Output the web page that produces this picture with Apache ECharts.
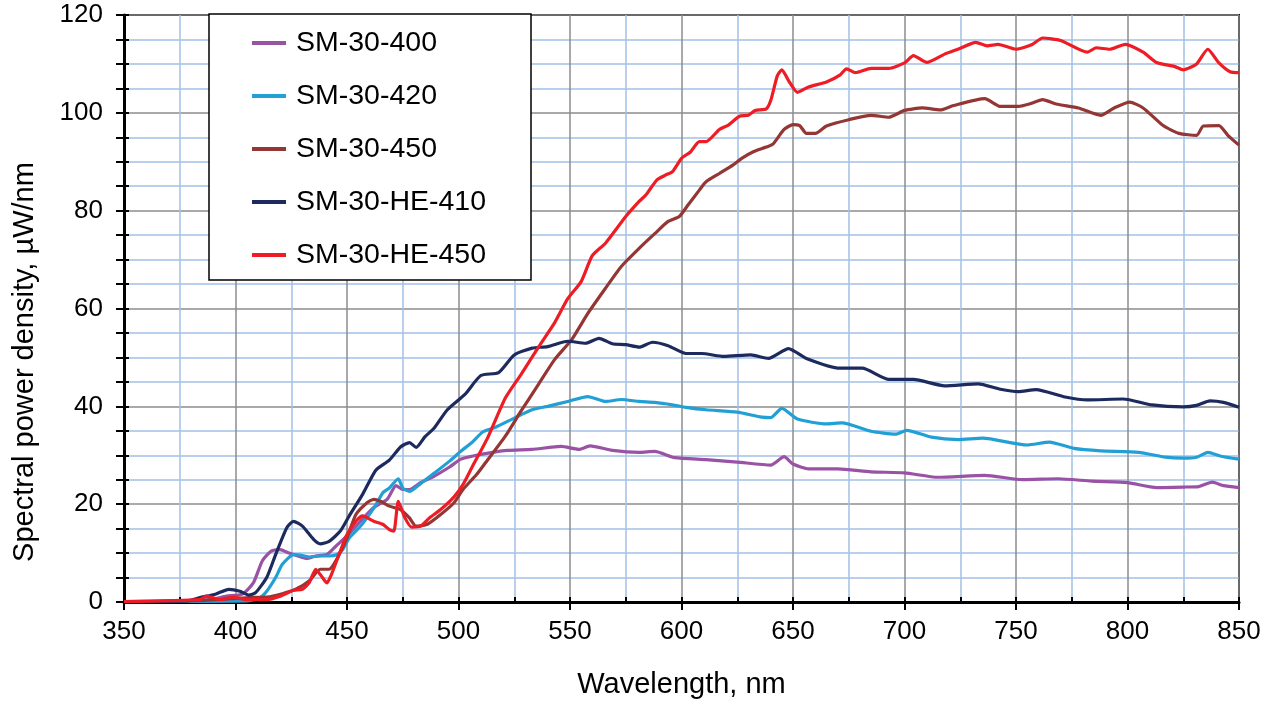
<!DOCTYPE html>
<html>
<head>
<meta charset="utf-8">
<script src="https://cdn.jsdelivr.net/npm/echarts@6/dist/echarts.min.js"></script>
<style>
  html, body { margin: 0; padding: 0; background: #fff; }
  #main { width: 1273px; height: 704px; }
</style>
</head>
<body>
<div id="main"></div>
<script>
// spectra: [wavelength nm, µW/nm]
var names = ['SM-30-400', 'SM-30-420', 'SM-30-450', 'SM-30-HE-410', 'SM-30-HE-450']
var colors = ['#9a52a4', '#22a0d6', '#943634', '#1d2a5e', '#ee1c24']

var sm400 = [[350,0.1],[380,0.2],[390,0.6],[396,1.2],[403,1.6],[408,3.9],[412,8.4],[416,10.4],[420,10.7],[424,10.0],[428,9.4],[432,8.9],[436,9.4],[441,9.7],[445,11.4],[450,13.5],[456,16.5],[462,19.3],[468,21.0],[472,23.8],[475,23.0],[478,23.0],[483,24.4],[489,25.7],[496,27.6],[501,29.2],[506,29.8],[514,30.5],[522,31.0],[533,31.2],[546,31.8],[554,31.2],[559,31.9],[569,31.0],[581,30.6],[588,30.8],[597,29.5],[611,29.1],[625,28.6],[640,28.0],[646,29.7],[650,28.2],[657,27.2],[670,27.2],[685,26.6],[700,26.4],[715,25.5],[736,25.9],[753,25.0],[769,25.2],[784,24.7],[800,24.4],[813,23.4],[825,23.5],[832,23.6],[838,24.5],[843,23.8],[850,23.4]]

var sm420 = [[350,0.1],[405,0.2],[411,0.9],[414,2.2],[418,5.0],[421,7.7],[426,9.7],[429,9.6],[433,9.2],[438,9.4],[442,9.4],[445,9.6],[448,10.7],[451,13.1],[456,15.5],[460,17.9],[463,19.9],[466,22.3],[469,23.3],[473,25.2],[475,23.3],[478,22.6],[483,24.2],[489,26.3],[496,28.8],[501,30.8],[506,32.6],[511,34.8],[516,35.6],[525,37.6],[533,39.3],[540,40.0],[549,41.0],[558,42.0],[566,41.0],[573,41.4],[581,41.0],[588,40.8],[596,40.3],[602,39.8],[611,39.3],[625,38.8],[636,37.8],[640,37.7],[645,39.6],[652,37.4],[665,36.4],[672,36.6],[685,34.9],[696,34.3],[701,35.1],[712,33.7],[724,33.2],[735,33.5],[755,32.1],[765,32.7],[776,31.4],[788,30.9],[805,30.6],[817,29.6],[825,29.4],[831,29.6],[836,30.6],[842,29.8],[850,29.2]]

var sm450 = [[350,0.1],[384,0.3],[406,0.9],[414,1.0],[421,1.7],[427,2.6],[433,4.3],[438,6.7],[442,6.7],[445,8.4],[450,13.1],[454,17.9],[459,20.3],[462,21.0],[465,20.6],[469,19.6],[474,18.9],[478,17.2],[481,15.5],[486,15.9],[492,17.9],[498,20.3],[502,23.0],[508,26.0],[512,28.4],[521,33.9],[528,39.0],[536,44.6],[543,49.5],[551,53.8],[558,59.0],[566,64.2],[573,68.6],[581,72.3],[588,75.3],[594,77.8],[599,78.8],[603,81.2],[608,84.2],[611,85.9],[617,87.6],[623,89.3],[627,90.7],[632,92.0],[638,93.0],[641,93.6],[646,96.6],[650,97.6],[653,97.4],[656,95.8],[660,95.8],[665,97.3],[675,98.6],[685,99.5],[693,99.1],[700,100.5],[708,101.0],[716,100.6],[722,101.5],[736,102.9],[743,101.3],[751,101.3],[756,101.8],[762,102.7],[768,101.8],[778,101.0],[788,99.5],[794,101.0],[801,102.2],[807,101.0],[816,97.4],[823,95.8],[831,95.4],[834,97.3],[841,97.4],[845,95.4],[850,93.4]]

var he410 = [[350,0.1],[378,0.2],[384,0.9],[391,1.6],[397,2.6],[402,2.2],[406,1.4],[409,1.9],[414,5.0],[418,9.7],[423,15.2],[426,16.5],[430,15.5],[435,12.8],[438,11.9],[442,12.4],[447,14.5],[451,17.6],[457,22.0],[463,27.0],[469,29.0],[474,31.7],[478,32.6],[481,31.6],[485,33.8],[489,35.5],[495,39.3],[503,42.5],[510,46.3],[518,46.9],[525,50.5],[533,51.9],[540,52.2],[549,53.3],[557,52.9],[563,53.9],[569,52.8],[575,52.6],[581,52.1],[587,53.1],[594,52.4],[602,50.8],[609,50.8],[619,50.2],[631,50.5],[639,49.8],[648,51.8],[656,49.8],[671,47.8],[681,47.8],[693,45.5],[704,45.5],[718,44.2],[733,44.6],[743,43.5],[751,43.0],[759,43.4],[772,41.9],[782,41.3],[798,41.5],[811,40.3],[825,39.9],[831,40.2],[837,41.1],[843,40.8],[850,39.8]]

var he450 = [[350,0.1],[384,0.5],[387,1.2],[393,0.5],[399,1.0],[405,0.5],[414,0.5],[420,1.2],[426,2.4],[430,2.6],[433,3.9],[436,6.7],[439,5.0],[441,3.9],[443,5.6],[447,10.4],[450,13.8],[454,16.5],[457,17.6],[462,16.5],[466,15.9],[469,14.8],[471,14.5],[473,20.6],[476,17.2],[479,15.3],[483,15.5],[487,17.2],[492,18.9],[498,21.5],[502,24.0],[506,27.5],[513,33.5],[521,41.7],[528,46.5],[536,52.2],[543,57.0],[549,62.0],[555,65.5],[560,70.8],[566,73.4],[575,78.8],[581,81.9],[584,83.2],[589,86.3],[593,87.3],[596,88.0],[600,90.7],[604,92.0],[608,94.1],[611,94.1],[617,96.6],[621,97.5],[626,99.3],[630,99.5],[633,100.5],[638,100.8],[640,102.5],[643,107.6],[645,108.8],[648,106.6],[652,104.2],[657,105.3],[665,106.3],[671,107.7],[674,109.0],[678,108.2],[685,109.1],[693,109.1],[700,110.2],[704,111.7],[710,110.3],[718,112.0],[724,113.0],[732,114.4],[737,113.7],[742,114.0],[750,113.0],[757,113.9],[762,115.3],[770,114.8],[782,112.4],[786,113.3],[792,113.0],[799,114.0],[807,112.4],[813,110.3],[821,109.5],[825,108.8],[831,110.0],[836,113.0],[841,110.2],[846,108.4],[850,108.2]]

var allData = [sm400, sm420, sm450, he410, he450]

var font = "'Liberation Sans', Arial, sans-serif"
var chart = echarts.init(document.getElementById('main'))

var series = names.map(function (n, i) {
  return {
    name: n,
    type: 'line',
    data: allData[i],
    xAxisIndex: 0,
    yAxisIndex: 0,
    showSymbol: false,
    symbol: 'none',
    smooth: 0.2,
    lineStyle: { color: colors[i], width: 3.2 },
    itemStyle: { color: colors[i] },
    z: 2
  }
})

var option = {
  animation: false,
  backgroundColor: '#fff',
  textStyle: { fontFamily: font },
  grid: {
    left: 124, right: 34, top: 15, bottom: 101,
    show: true, borderColor: '#000', borderWidth: 2
  },
  legend: {
    data: names,
    orient: 'vertical',
    left: 252, top: 28,
    padding: 0,
    itemWidth: 34, itemHeight: 4, itemGap: 23,
    icon: 'rect',
    textStyle: { fontFamily: font, fontSize: 28.5, lineHeight: 30, color: '#000', padding: [0, 0, 0, 5] },
    z: 6
  },
  graphic: [
    {
      type: 'rect', z: 5,
      shape: { x: 209, y: 14, width: 322, height: 266 },
      style: { fill: '#fff', stroke: '#000', lineWidth: 1.5 }
    },
    {
      type: 'text', z: 5,
      x: 25, y: 362, rotation: Math.PI / 2,
      style: {
        text: 'Spectral power density, µW/nm',
        font: '29px ' + font,
        fill: '#000',
        align: 'center', verticalAlign: 'middle',
        textAlign: 'center', textVerticalAlign: 'middle'
      }
    }
  ],
  xAxis: [
    {
      type: 'value', min: 350, max: 850, interval: 50,
      name: 'Wavelength, nm', nameLocation: 'middle', nameGap: 68,
      nameTextStyle: { fontSize: 29, color: '#000', fontFamily: font },
      axisLine: { lineStyle: { color: '#000', width: 3 } },
      axisTick: { show: true, length: 8, lineStyle: { color: '#000', width: 2 } },
      axisLabel: { fontSize: 26, color: '#000', margin: 17, fontFamily: font },
      splitLine: { show: true, lineStyle: { color: '#8c8c8c', width: 1.5 } },
      minorTick: { show: false, splitNumber: 2 },
      minorSplitLine: { show: true, lineStyle: { color: '#a3c1e8', width: 1.5 } }
    },
    {
      type: 'value', min: 350, max: 850, interval: 25, position: 'bottom',
      axisLine: { show: false },
      axisTick: { show: true, inside: true, length: 5, lineStyle: { color: '#000', width: 2 } },
      axisLabel: { show: false },
      splitLine: { show: false }
    }
  ],
  yAxis: [
    {
      type: 'value', min: 0, max: 120, interval: 20,
      axisLine: { show: true, lineStyle: { color: '#000', width: 3 } },
      axisTick: { show: true, length: 8, lineStyle: { color: '#000', width: 2 } },
      axisLabel: { fontSize: 26, color: '#000', margin: 21, fontFamily: font },
      splitLine: { show: true, lineStyle: { color: '#8c8c8c', width: 1.5 } },
      minorTick: { show: true, splitNumber: 4, length: 8, lineStyle: { color: '#000', width: 2 } },
      minorSplitLine: { show: true, lineStyle: { color: '#a3c1e8', width: 1.5 } }
    },
    {
      type: 'value', min: 0, max: 120, interval: 5, position: 'left',
      axisLine: { show: false },
      axisTick: { show: true, inside: true, length: 5, lineStyle: { color: '#000', width: 2 } },
      axisLabel: { show: false },
      splitLine: { show: false }
    }
  ],
  series: series
}

chart.setOption(option)
</script>
</body>
</html>
